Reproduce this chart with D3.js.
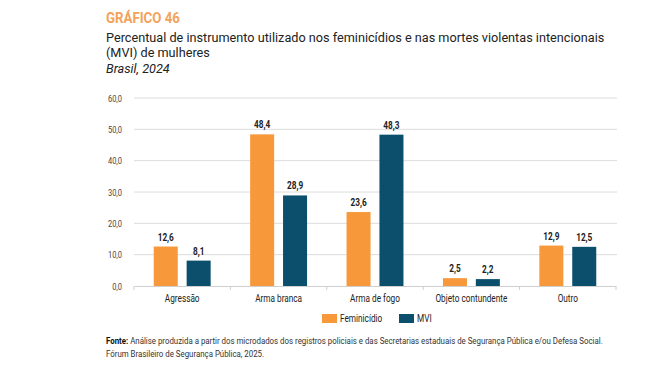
<!DOCTYPE html>
<html><head><meta charset="utf-8">
<script src="https://cdn.jsdelivr.net/npm/d3@7"></script>
<style>
body{margin:0;background:#fff;}
svg text{font-family:"Roboto","Liberation Sans",sans-serif;}
</style></head>
<body><svg id="c" width="659" height="379"></svg>
<script>
const categories = ["Agressão","Arma branca","Arma de fogo","Objeto contundente","Outro"];
const seriesNames = ["Feminicídio","MVI"];
const feminicidio = [12.6,48.4,23.6,2.5,12.9];
const mvi = [8.1,28.9,48.3,2.2,12.5];
const yTicks = [0,10,20,30,40,50,60];
const colors = ["#F7993B","#0B4F6C"];

const svg = d3.select("#c");
const fmt = v => d3.format(".1f")(v).replace(".", ",");

// text placed at (x,y), horizontally scaled later
const groups = {};
function ctext(parent, x, y, grp){
  const t = parent.append("text").attr("x",0).attr("y",0).attr("data-x",x).attr("data-y",y)
    .attr("transform",`translate(${x},${y})`);
  (groups[grp] = groups[grp] || []).push(t);
  return t;
}
// scale a group so that its reference text reaches a target width
function fitGroup(grp, refText, target){
  const w = refText.node().getComputedTextLength();
  const k = w > 0 ? target / w : 1;
  groups[grp].forEach(t => t.attr("transform", `translate(${t.attr("data-x")},${t.attr("data-y")}) scale(${k},1)`));
}

// Titles
const t0 = ctext(svg,106,23.3,"head").attr("fill","#F4A259").attr("font-weight","bold").attr("font-size",13.8).text("GRÁFICO 46");
fitGroup("head", t0, 74);
const t1 = ctext(svg,106,41.7,"title").attr("fill","#222").attr("font-size",13.2)
  .text("Percentual de instrumento utilizado nos feminicídios e nas mortes violentas intencionais");
ctext(svg,106,57,"title").attr("fill","#222").attr("font-size",13.2).text("(MVI) de mulheres");
ctext(svg,106,72.7,"title").attr("fill","#222").attr("font-size",13.2).attr("font-style","italic").text("Brasil, 2024");
fitGroup("title", t1, 498);

const x0 = d3.scaleBand().domain(categories).range([134,616]).paddingInner(0).paddingOuter(0);
const x1 = d3.scaleBand().domain(seriesNames).range([0,x0.bandwidth()]).paddingInner(0.27).paddingOuter(0.6);
const y = d3.scaleLinear().domain([0,60]).range([286,98]);

// gridlines
svg.append("g").selectAll("line").data(yTicks.filter(d=>d>0)).join("line")
  .attr("x1",134).attr("x2",617).attr("y1",d=>y(d)).attr("y2",d=>y(d))
  .attr("stroke","#dcdcdc").attr("stroke-width",1);

// y axis labels
const gy = svg.append("g");
yTicks.forEach(d=>{
  ctext(gy,122,y(d)+3.5,"c").attr("text-anchor","end").attr("font-size",9.5).attr("fill","#444").text(fmt(d));
});

// x axis
const xa = svg.append("g").attr("transform","translate(0,286)")
  .call(d3.axisBottom(x0).tickSize(0).tickFormat(""));
xa.select(".domain").attr("stroke","#cfcfcf");
const bounds = categories.map(c=>x0(c)).concat([x0.range()[1]]);
svg.append("g").selectAll("line").data(bounds).join("line")
  .attr("x1",d=>d).attr("x2",d=>d).attr("y1",286).attr("y2",290).attr("stroke","#cfcfcf");
const gx = svg.append("g");
let refCat = null;
categories.forEach(c=>{
  const t = ctext(gx,x0(c)+x0.bandwidth()/2,302,"c").attr("text-anchor","middle").attr("font-size",10.5).attr("fill","#222").text(c);
  if (c === "Objeto contundente") refCat = t;
});

// bars
const gb = svg.append("g");
categories.forEach((c,i)=>{
  [feminicidio[i],mvi[i]].forEach((v,j)=>{
    const bx = x0(c)+x1(seriesNames[j]);
    gb.append("rect").attr("x",bx).attr("width",x1.bandwidth())
      .attr("y",y(v)).attr("height",y(0)-y(v)).attr("fill",colors[j]);
    ctext(gb,bx+x1.bandwidth()/2,y(v)-6,"c").attr("text-anchor","middle")
      .attr("font-size",10.5).attr("font-weight","bold").attr("fill","#222").text(fmt(v));
  });
});

// legend
const leg = [{n:"Feminicídio",x:322},{n:"MVI",x:399}];
leg.forEach((l,i)=>{
  svg.append("rect").attr("x",l.x).attr("y",314).attr("width",15).attr("height",9).attr("fill",colors[i]);
  ctext(svg,l.x+18,322,"c").attr("font-size",10.5).attr("fill","#222").text(l.n);
});
fitGroup("c", refCat, 72);

// footnote
const f1 = ctext(svg,106,344,"fn").attr("font-size",8.6).attr("fill","#333");
f1.append("tspan").attr("font-weight","bold").attr("fill","#111").text("Fonte: ");
f1.append("tspan").text("Análise produzida a partir dos microdados dos registros policiais e das Secretarias estaduais de Segurança Pública e/ou Defesa Social.");
ctext(svg,106,356.5,"fn").attr("font-size",8.6).attr("fill","#333").text("Fórum Brasileiro de Segurança Pública, 2025.");
fitGroup("fn", f1, 497);
</script></body></html>
